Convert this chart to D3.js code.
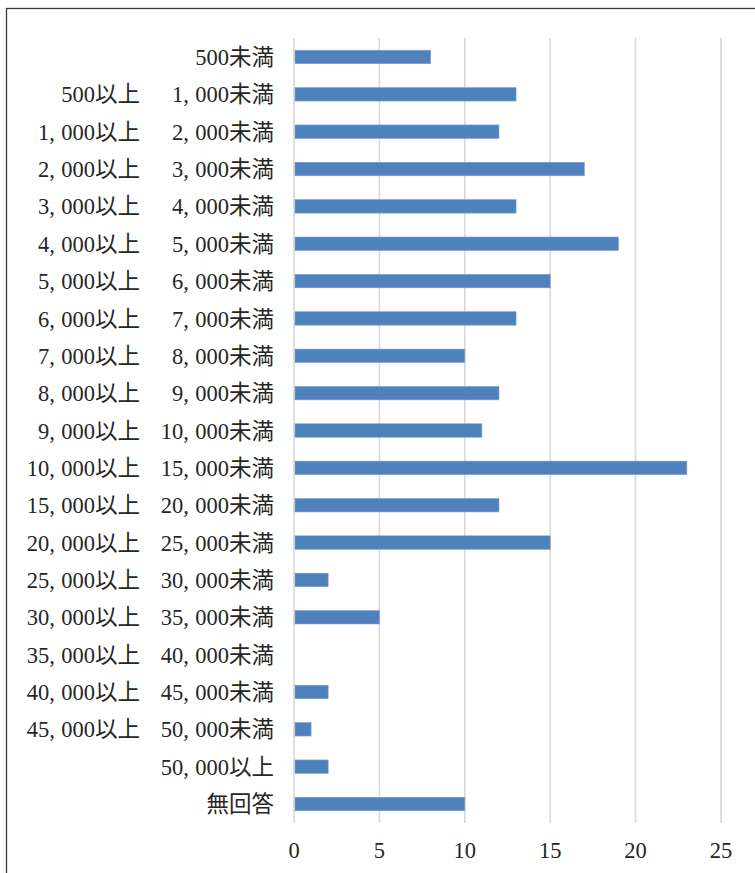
<!DOCTYPE html>
<html><head><meta charset="utf-8">
<script src="https://cdn.jsdelivr.net/npm/d3@7"></script>
<style>
html,body{margin:0;padding:0;background:#fff;}
svg{display:block;}
text{font-family:"Liberation Serif","DejaVu Serif","Noto Sans CJK JP",serif;fill:#262626;}
</style></head>
<body>
<svg id="chart" width="755" height="873"></svg>
<script>
const categories = [
  "500未満",
  "500以上　1,000未満",
  "1,000以上　2,000未満",
  "2,000以上　3,000未満",
  "3,000以上　4,000未満",
  "4,000以上　5,000未満",
  "5,000以上　6,000未満",
  "6,000以上　7,000未満",
  "7,000以上　8,000未満",
  "8,000以上　9,000未満",
  "9,000以上　10,000未満",
  "10,000以上　15,000未満",
  "15,000以上　20,000未満",
  "20,000以上　25,000未満",
  "25,000以上　30,000未満",
  "30,000以上　35,000未満",
  "35,000以上　40,000未満",
  "40,000以上　45,000未満",
  "45,000以上　50,000未満",
  "50,000以上",
  "無回答"
];
const values = [8, 13, 12, 17, 13, 19, 15, 13, 10, 12, 11, 23, 12, 15, 2, 5, 0, 2, 1, 2, 10];
const xTicks = [0, 5, 10, 15, 20, 25];

const svg = d3.select("#chart");
const FS = 22.5;

// outer border
svg.append("rect")
  .attr("x", 6.5).attr("y", 8.5)
  .attr("width", 760).attr("height", 880)
  .attr("fill", "none").attr("stroke", "#3a3a3a").attr("stroke-width", 1.3);

const x = d3.scaleLinear().domain([0, 25]).range([294, 721]);
const y = d3.scaleBand().domain(categories).range([38.3, 822.7])
  .paddingInner(0.64).paddingOuter(0.32);

// gridlines
svg.append("g").selectAll("line").data(xTicks).join("line")
  .attr("x1", d => x(d)).attr("x2", d => x(d))
  .attr("y1", 38).attr("y2", 823)
  .attr("stroke", "#d9d9d9").attr("stroke-width", 1.6);

// bars
svg.append("g").selectAll("rect").data(values).join("rect")
  .attr("x", x(0) + 1)
  .attr("y", (d, i) => y(categories[i]))
  .attr("width", d => Math.max(0, x(d) - x(0) - 1))
  .attr("height", y.bandwidth())
  .attr("fill", "#4f81bd")
  .attr("stroke", d => d > 0 ? "#7a9fd0" : "none")
  .attr("stroke-width", 0.6);

// text with wide (half-em) commas, like the Mincho original
function wideText(g, str, xEnd) {
  const t = g.append("text").attr("x", xEnd).attr("dy", "0.36em")
    .attr("text-anchor", "end").attr("font-size", FS);
  const pieces = str.split(",");
  pieces.forEach((p, i) => {
    if (i > 0) {
      t.append("tspan").text(",");
      t.append("tspan").attr("dx", FS * 0.28).text(p);
    } else {
      t.append("tspan").text(p);
    }
  });
}

// category labels
const lab = svg.append("g").selectAll("g").data(categories).join("g")
  .attr("transform", d => `translate(0,${y(d) + y.bandwidth() / 2})`);
lab.each(function (d) {
  const parts = d.split("　");
  const g = d3.select(this);
  if (parts.length === 2) {
    wideText(g, parts[0], 140);
    wideText(g, parts[1], 274);
  } else {
    wideText(g, d, 274);
  }
});

// x tick labels
svg.append("g").selectAll("text").data(xTicks).join("text")
  .attr("x", d => x(d)).attr("y", 858)
  .attr("text-anchor", "middle").attr("font-size", FS)
  .text(d => d);
</script>
</body></html>
